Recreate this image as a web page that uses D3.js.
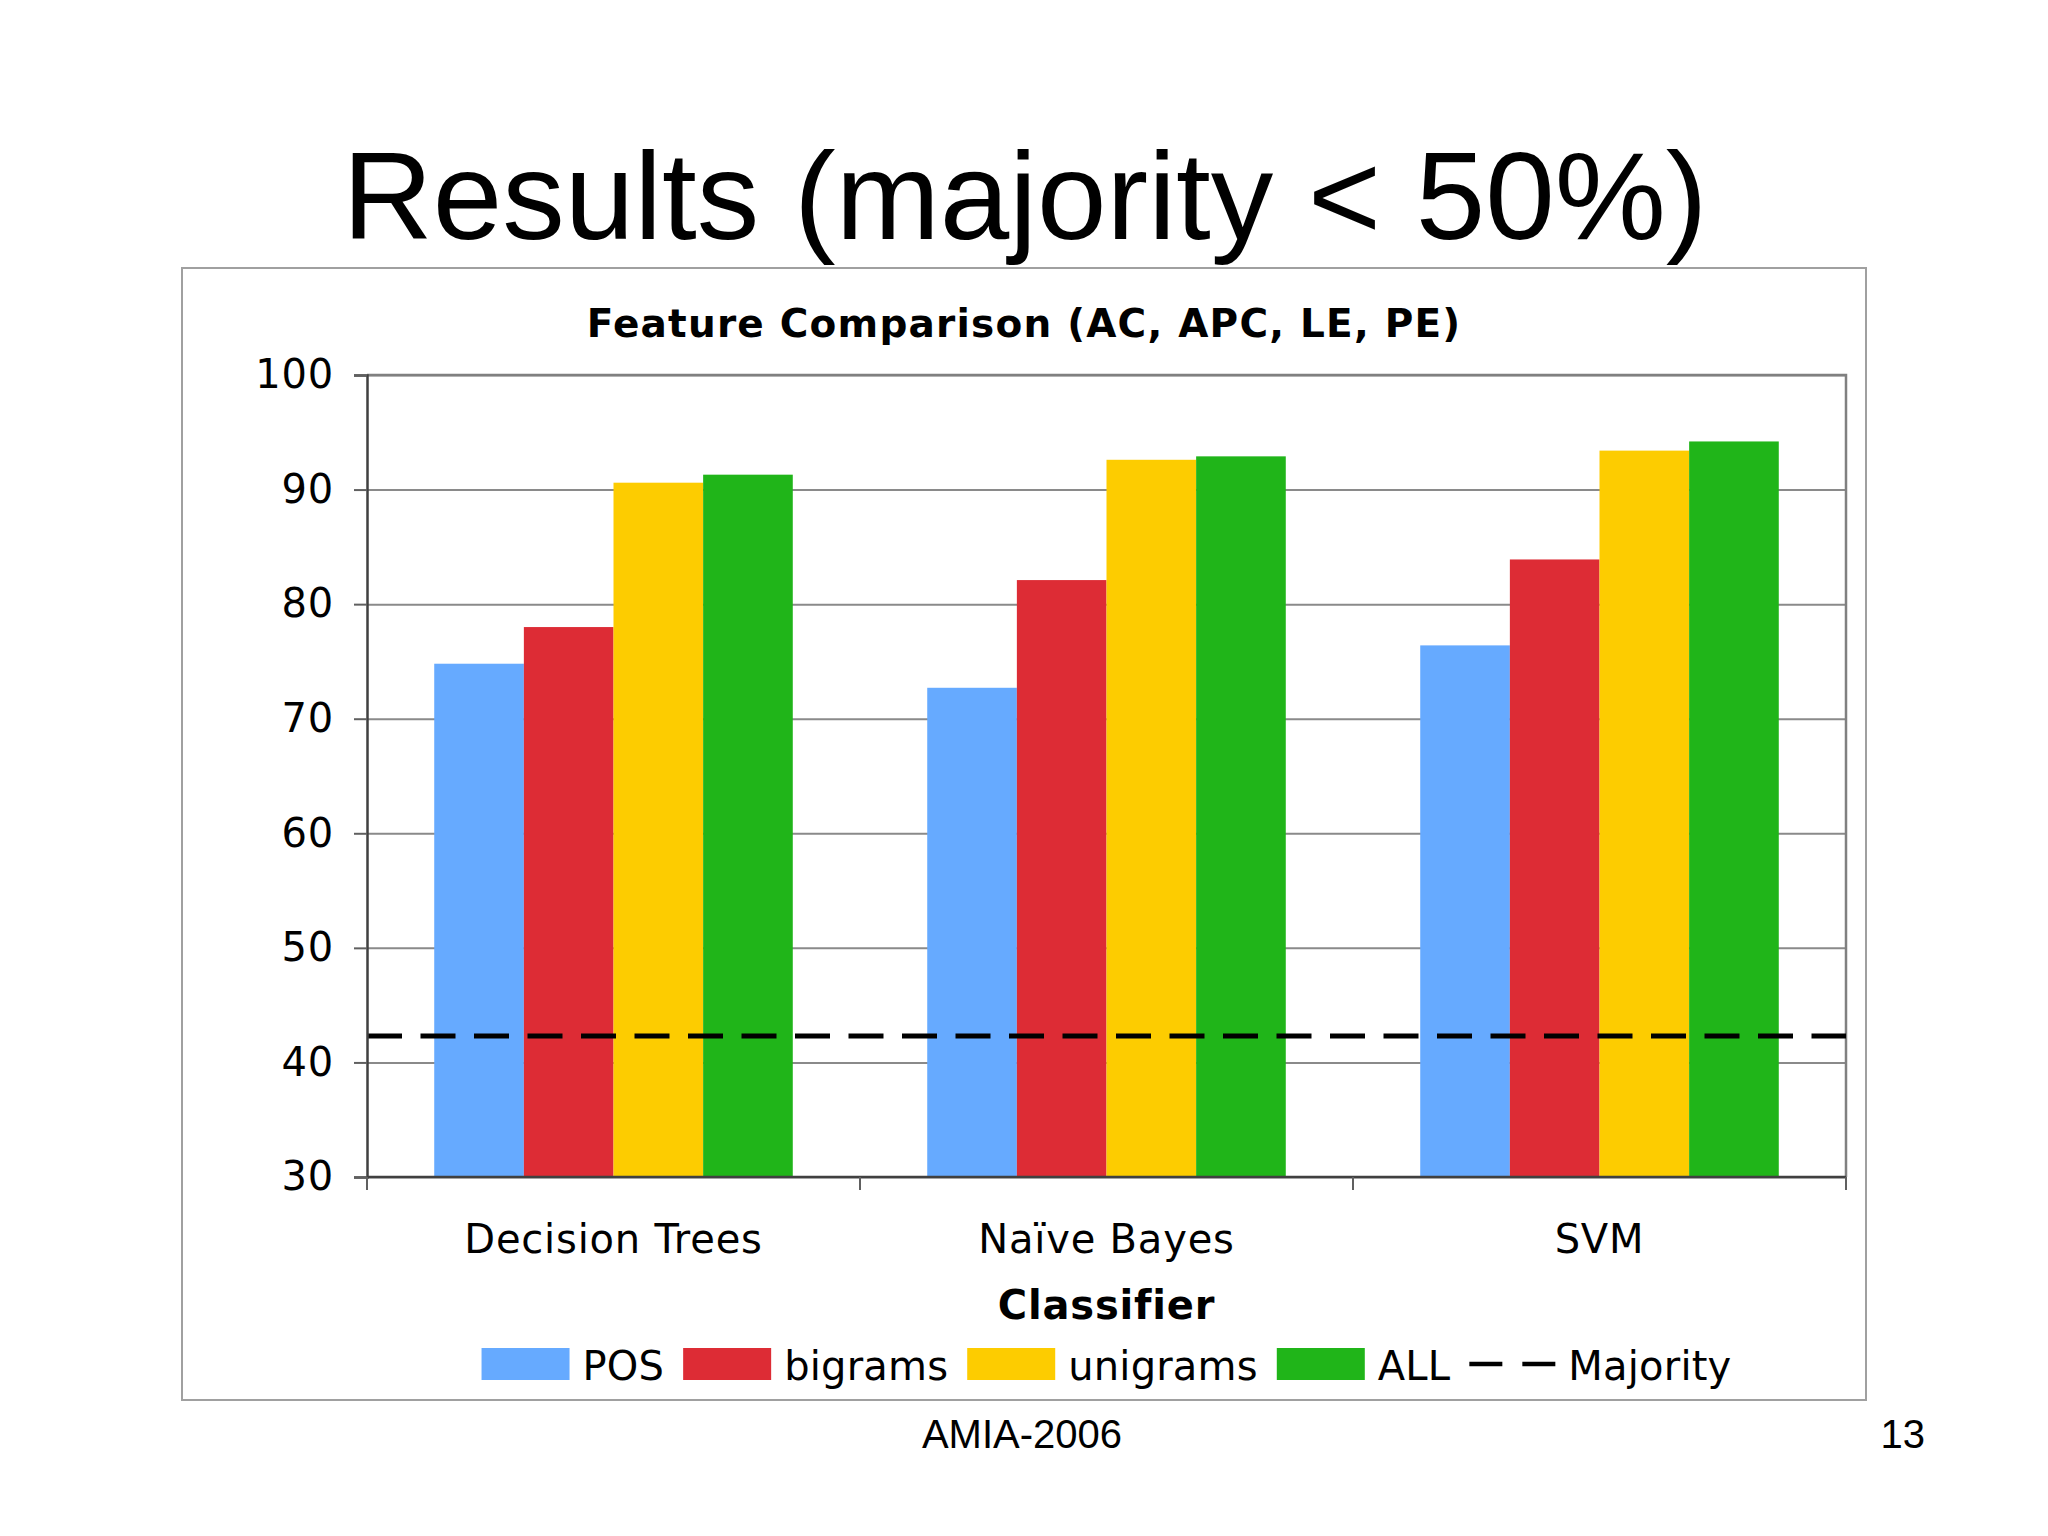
<!DOCTYPE html>
<html>
<head>
<meta charset="utf-8">
<script src="https://cdn.jsdelivr.net/npm/d3@7"></script>
<style>
  html, body { margin: 0; padding: 0; background: #fff; }
  svg { display: block; }
</style>
</head>
<body>
<div id="chart"></div>
<script>
// values
const classifiers = ['Decision Trees', 'Naïve Bayes', 'SVM']
const features = ['POS', 'bigrams', 'unigrams', 'ALL']
const pos = [74.8, 72.7, 76.4]
const bigrams = [78.0, 82.1, 83.9]
const unigrams = [90.6, 92.6, 93.4]
const all = [91.3, 92.9, 94.2]
const majority = 42.3
const yTicks = [30, 40, 50, 60, 70, 80, 90, 100]
const colors = ['#66aaff', '#dd2c35', '#fdcc00', '#20b519']

const W = 2048
const H = 1536
const box = { x0: 182, y0: 268, x1: 1866, y1: 1400 }
const plot = { left: 367, right: 1846, top: 375, bottom: 1177 }
const chartFont = '"DejaVu Sans", Verdana, sans-serif'
const slideFont = '"Liberation Sans", Arial, sans-serif'
const chartSize = 40
const chartSpacing = 0.8

const series = [pos, bigrams, unigrams, all]
const rows = classifiers.map((c, i) => {
  const row = { group: c }
  features.forEach((f, k) => { row[f] = series[k][i] })
  return row
})

const svg = d3.select('#chart').append('svg')
  .attr('width', W)
  .attr('height', H)
  .attr('viewBox', '0 0 ' + W + ' ' + H)

svg.append('rect').attr('width', W).attr('height', H).attr('fill', '#fff')

// slide title
svg.append('text')
  .attr('x', 1025)
  .attr('y', 239)
  .attr('text-anchor', 'middle')
  .attr('font-family', slideFont)
  .attr('font-size', 125)
  .attr('fill', '#000')
  .text('Results (majority < 50%)')

// chart frame
svg.append('rect')
  .attr('x', box.x0)
  .attr('y', box.y0)
  .attr('width', box.x1 - box.x0)
  .attr('height', box.y1 - box.y0)
  .attr('fill', '#fff')
  .attr('stroke', '#a0a0a0')
  .attr('stroke-width', 2)

svg.append('text')
  .attr('x', (box.x0 + box.x1) / 2)
  .attr('y', 337)
  .attr('text-anchor', 'middle')
  .attr('font-family', chartFont)
  .attr('font-weight', 'bold')
  .attr('font-size', 39)
  .attr('letter-spacing', 1.2)
  .text('Feature Comparison (AC, APC, LE, PE)')

var x0 = d3.scaleBand()
  .domain(classifiers)
  .range([plot.left, plot.right])

var x1 = d3.scaleBand()
  .domain(features)
  .range([0, x0.bandwidth()])
  .paddingOuter(0.75)

var y = d3.scaleLinear()
  .domain([30, 100])
  .range([plot.bottom, plot.top])

var colorScale = d3.scaleOrdinal().domain(features).range(colors)

const g = svg.append('g')

// gridlines
g.append('g')
  .attr('class', 'grid')
  .attr('transform', 'translate(' + plot.left + ',0)')
  .call(d3.axisLeft(y).tickValues(yTicks).tickSize(-(plot.right - plot.left)).tickFormat(''))
  .call(s => s.select('.domain').remove())
  .selectAll('line')
  .attr('stroke', '#8a8a8a')
  .attr('stroke-width', 2)

// plot border top/right
g.append('path')
  .attr('d', 'M' + plot.left + ',' + plot.top + 'H' + plot.right + 'V' + plot.bottom)
  .attr('fill', 'none')
  .attr('stroke', '#808080')
  .attr('stroke-width', 2.5)

// bars
const groups = g.append('g').attr('class', 'g-plot')
  .selectAll('g')
  .data(rows)
  .join('g')
  .attr('transform', d => 'translate(' + x0(d.group) + ',0)')

groups.selectAll('rect')
  .data(d => features.map(f => ({ key: f, value: d[f] })))
  .join('rect')
  .attr('x', d => x1(d.key))
  .attr('y', d => y(d.value))
  .attr('width', x1.bandwidth())
  .attr('height', d => y(30) - y(d.value))
  .attr('fill', d => colorScale(d.key))

// majority line
g.append('line')
  .attr('x1', plot.left)
  .attr('x2', plot.right)
  .attr('y1', y(majority))
  .attr('y2', y(majority))
  .attr('stroke', '#000')
  .attr('stroke-width', 5)
  .attr('stroke-dasharray', '35 18.5')

// y axis
const axisY = g.append('g')
  .attr('class', 'axis axis--y')
  .attr('transform', 'translate(' + plot.left + ',0)')
  .call(d3.axisLeft(y).tickValues(yTicks).tickSize(13).tickPadding(20))
axisY.select('.domain').attr('stroke', '#404040').attr('stroke-width', 2.5)
axisY.selectAll('line').attr('stroke', '#606060').attr('stroke-width', 2)
axisY.selectAll('text')
  .attr('font-family', chartFont)
  .attr('font-size', chartSize)
  .attr('letter-spacing', chartSpacing)
  .attr('fill', '#000')

// x axis: ticks at group boundaries
const axisX = g.append('g')
  .attr('class', 'axis axis--x')
  .attr('transform', 'translate(0,' + plot.bottom + ')')
const boundaries = classifiers.map(c => x0(c)).concat([plot.right])
axisX.append('line')
  .attr('x1', plot.left).attr('x2', plot.right)
  .attr('stroke', '#404040').attr('stroke-width', 2.5)
axisX.selectAll('.tick-b')
  .data(boundaries)
  .join('line')
  .attr('class', 'tick-b')
  .attr('x1', d => d).attr('x2', d => d)
  .attr('y1', 0).attr('y2', 13)
  .attr('stroke', '#606060').attr('stroke-width', 2)
axisX.selectAll('.cat')
  .data(classifiers)
  .join('text')
  .attr('class', 'cat')
  .attr('x', d => x0(d) + x0.bandwidth() / 2)
  .attr('y', 1253 - plot.bottom)
  .attr('text-anchor', 'middle')
  .attr('font-family', chartFont)
  .attr('font-size', chartSize)
  .attr('letter-spacing', chartSpacing)
  .text(d => d)

const midPlot = (plot.left + plot.right) / 2
svg.append('text')
  .attr('x', midPlot)
  .attr('y', 1319)
  .attr('text-anchor', 'middle')
  .attr('font-family', chartFont)
  .attr('font-weight', 'bold')
  .attr('font-size', chartSize)
  .attr('letter-spacing', chartSpacing)
  .text('Classifier')

// legend
const legendItems = features.concat(['Majority'])
const legend = svg.append('g')
  .attr('class', 'legend')
  .attr('font-family', chartFont)
  .attr('font-size', chartSize)
  .attr('letter-spacing', 0.2)
let cursor = 0
legendItems.forEach(function(name) {
  const item = legend.append('g').attr('transform', 'translate(' + cursor + ',0)')
  const isLine = name === 'Majority'
  const sw = isLine ? 86 : 88
  if (isLine) {
    item.append('line')
      .attr('x1', 0).attr('x2', sw)
      .attr('y1', -16).attr('y2', -16)
      .attr('stroke', '#000')
      .attr('stroke-width', 4.5)
      .attr('stroke-dasharray', '33 20')
  } else {
    item.append('rect')
      .attr('x', 0).attr('y', -32)
      .attr('width', sw).attr('height', 32)
      .attr('fill', colorScale(name))
  }
  const t = item.append('text')
    .attr('x', sw + 13)
    .attr('y', 0)
    .text(name)
  cursor += sw + 13 + t.node().getComputedTextLength() + 19
})
cursor -= 19
legend.attr('transform', 'translate(' + (midPlot - cursor / 2) + ',1380)')

// footer
svg.append('text')
  .attr('x', 1022)
  .attr('y', 1448)
  .attr('text-anchor', 'middle')
  .attr('font-family', slideFont)
  .attr('font-size', 40)
  .text('AMIA-2006')

svg.append('text')
  .attr('x', 1925)
  .attr('y', 1448)
  .attr('text-anchor', 'end')
  .attr('font-family', slideFont)
  .attr('font-size', 40)
  .text('13')
</script>
</body>
</html>
